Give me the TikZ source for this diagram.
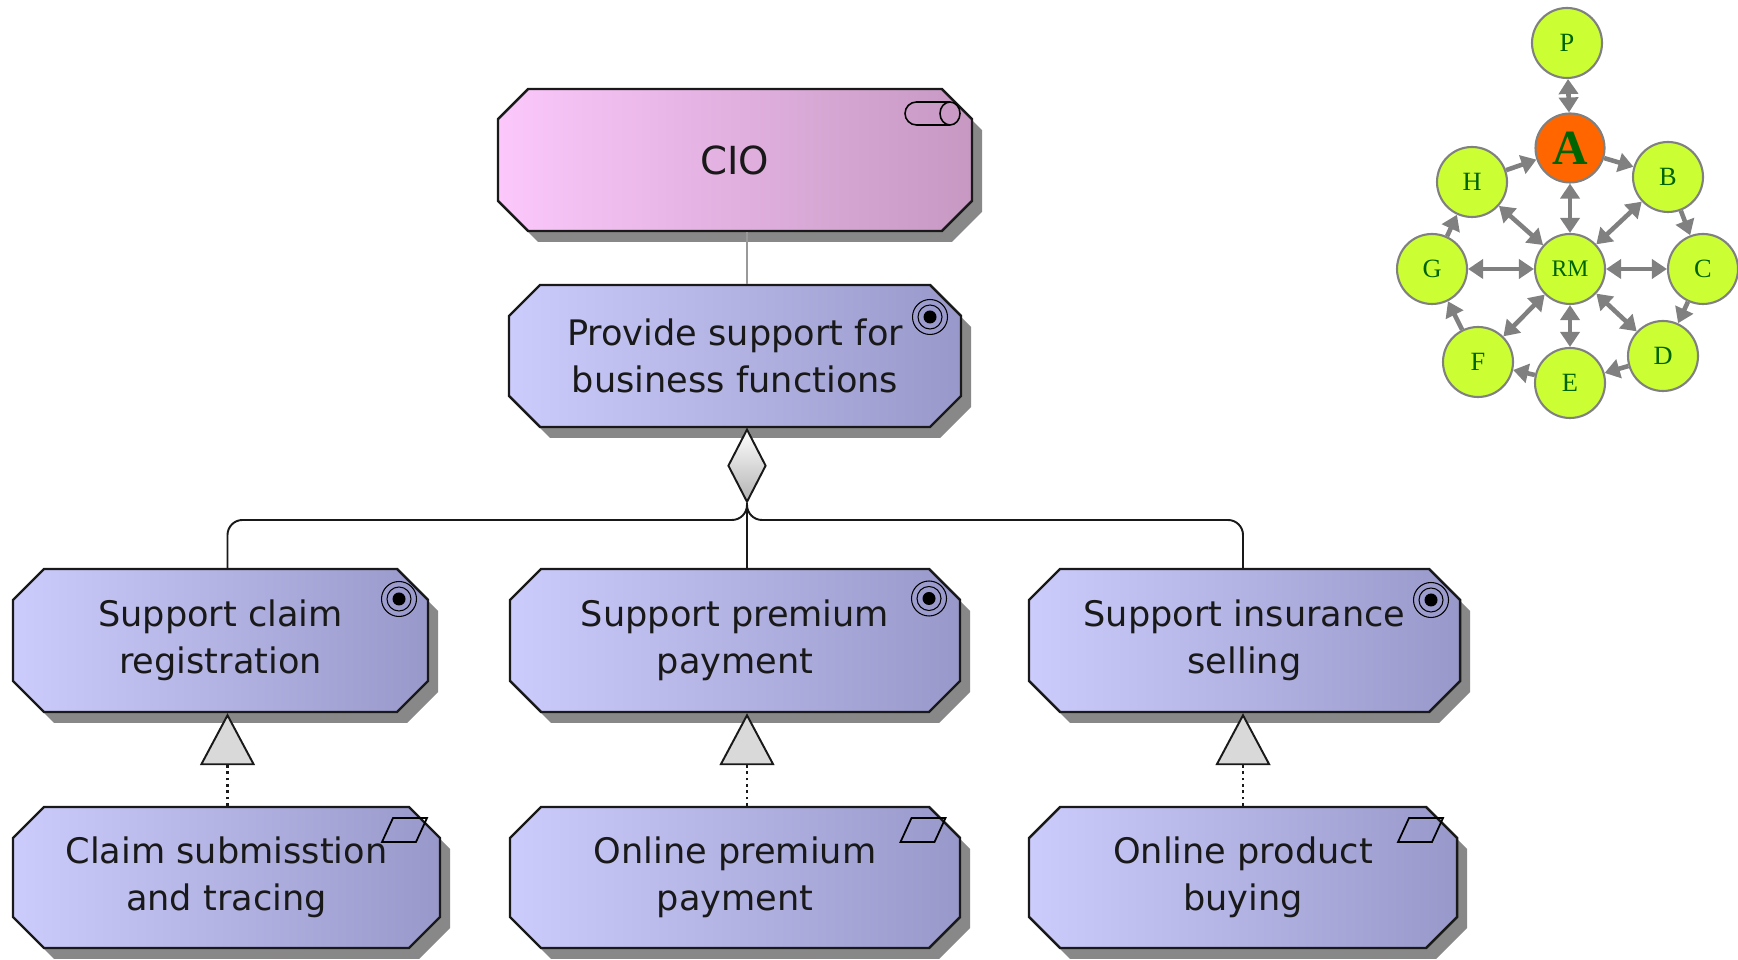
\documentclass[tikz,border=0pt]{standalone}
\usepackage{fontspec}
\setmainfont{DejaVu Sans}
\newfontfamily\graphfont{Liberation Serif}
\usetikzlibrary{shapes.misc,shapes.geometric,shadows,arrows.meta}
\definecolor{bizleft}{RGB}{204,204,252}
\definecolor{bizright}{RGB}{152,152,202}
\definecolor{roleleft}{RGB}{252,200,252}
\definecolor{roleright}{RGB}{198,152,194}
\definecolor{nodegreen}{RGB}{204,255,51}
\definecolor{nodeorange}{RGB}{255,102,0}
\definecolor{leaf}{RGB}{0,100,0}
\tikzset{
    goalmark/.pic = {
        \draw[line width = 0.6pt] (0,0) circle (0.35);
        \draw[line width = 0.6pt] (0,0) circle (0.24);
        \fill (0,0) circle (0.13);
    },
    eventmark/.pic = {
        \draw[line width = 1pt] (-0.45,-0.24) -- (-0.23,0.24) -- (0.45,0.24) -- (0.23,-0.24) -- cycle;
    }
}
\begin{document}
\begin{tikzpicture}[scale = 1,
    box/.style = {chamfered rectangle, chamfered rectangle xsep = 0.31cm, chamfered rectangle ysep = 0.31cm,
        draw = black!90, line width = 1.4pt, left color = bizleft, right color = bizright,
        drop shadow = {shadow xshift = 0.2cm, shadow yshift = -0.22cm, fill = black!55, opacity = 0.85},
        align = center, inner sep = 0pt, text = black!90, font = \fontsize{20}{27}\selectfont},
    role/.style = {box, left color = roleleft, right color = roleright, font = \fontsize{22}{27}\selectfont},
    wire/.style = {draw = black!90, line width = 1.1pt},
    aggdiamond/.style = {diamond, draw = black!90, line width = 1.1pt, top color = white, bottom color = black!30,
        minimum width = 0.76cm, minimum height = 1.46cm, inner sep = 0pt, aspect = 0.52},
    realize/.style = {wire, line width = 1.5pt, dash pattern = on 1.6pt off 2pt,
        -{Triangle[length = 1.04cm, width = 1.1cm, fill = black!15, line width = 1.1pt]}},
    gnode/.style = {circle, draw = gray, line width = 1.2pt, fill = nodegreen, minimum size = 1.4cm,
        inner sep = 0pt, text = leaf, font = \graphfont\fontsize{15}{15}\selectfont},
    link/.style = {draw = gray, line width = 2.6pt, >={Triangle[length = 0.3cm, width = 0.38cm]}}]
    \useasboundingbox (0,0) rectangle (34.76,19.2);

    % motivation tree
    \node[role, minimum width = 9.48cm, minimum height = 2.84cm] (cio) at (14.70,16.00) {CIO};
    \node[box, minimum width = 9.04cm, minimum height = 2.84cm] (provide) at (14.70,12.08) {Provide support for\\business functions};
    \node[box, minimum width = 8.30cm, minimum height = 2.86cm] (claim) at (4.41,6.39) {Support claim\\registration};
    \node[box, minimum width = 9.00cm, minimum height = 2.86cm] (premium) at (14.70,6.39) {Support premium\\payment};
    \node[box, minimum width = 8.62cm, minimum height = 2.86cm] (selling) at (24.89,6.39) {Support insurance\\selling};
    \node[box, minimum width = 8.54cm, minimum height = 2.82cm] (submission) at (4.53,1.65) {Claim submisstion\\and tracing};
    \node[box, minimum width = 9.00cm, minimum height = 2.82cm] (onlinepay) at (14.70,1.65) {Online premium\\payment};
    \node[box, minimum width = 8.56cm, minimum height = 2.82cm] (buying) at (24.86,1.65) {Online product\\buying};

    % icons
    \draw[line width = 0.9pt] (19.00,17.16) -- (18.33,17.16) arc (90:270:0.23) -- (19.00,16.70);
    \draw[line width = 0.9pt] (19.00,16.93) ellipse (0.2 and 0.23);
    \pic at (18.60,12.86) {goalmark};
    \pic at (7.98,7.22) {goalmark};
    \pic at (18.58,7.23) {goalmark};
    \pic at (28.62,7.20) {goalmark};
    \pic at (8.09,2.60) {eventmark};
    \pic at (18.46,2.60) {eventmark};
    \pic at (28.41,2.60) {eventmark};

    % connectors
    \coordinate (fork) at (14.94,8.80);
    \coordinate (lbr) at (4.55,8.80);
    \coordinate (rbr) at (24.86,8.80);
    \draw[black!40, line width = 1pt] (cio.south -| fork) -- (provide.north -| fork);
    \node[aggdiamond, anchor = north] (agg) at (provide.south -| fork) {};
    \draw[wire, rounded corners = 0.3cm] (agg.south) |- (lbr) -- (claim.north -| lbr);
    \draw[wire, rounded corners = 0.3cm] (agg.south) |- (rbr) -- (selling.north -| rbr);
    \draw[wire] (agg.south) -- (premium.north -| fork);
    \draw[realize] (submission.north -| lbr) -- (claim.south -| lbr);
    \draw[realize] (onlinepay.north -| fork) -- (premium.south -| fork);
    \draw[realize] (buying.north -| rbr) -- (selling.south -| rbr);

    % graph
    \node[gnode] (p) at (31.34,18.34) {P};
    \node[gnode, fill = nodeorange, minimum size = 1.38cm, font = \graphfont\bfseries\fontsize{28}{28}\selectfont] (a) at (31.40,16.24) {A};
    \node[gnode] (h) at (29.44,15.56) {H};
    \node[gnode] (b) at (33.36,15.66) {B};
    \node[gnode] (g) at (28.64,13.82) {G};
    \node[gnode, font = \graphfont\fontsize{13.5}{13.5}\selectfont] (rm) at (31.40,13.82) {RM};
    \node[gnode] (c) at (34.06,13.82) {C};
    \node[gnode] (f) at (29.56,11.96) {F};
    \node[gnode] (e) at (31.40,11.54) {E};
    \node[gnode] (d) at (33.26,12.08) {D};
    \draw[link, <->] (p) -- (a);
    \draw[link, <->] (a) -- (rm);
    \draw[link, <->] (h) -- (rm);
    \draw[link, <->] (b) -- (rm);
    \draw[link, <->] (g) -- (rm);
    \draw[link, <->] (c) -- (rm);
    \draw[link, <->] (d) -- (rm);
    \draw[link, <->] (e) -- (rm);
    \draw[link, <->] (f) -- (rm);
    \draw[link, ->] (a) -- (b);
    \draw[link, ->] (b) -- (c);
    \draw[link, ->] (c) -- (d);
    \draw[link, ->] (d) -- (e);
    \draw[link, ->] (e) -- (f);
    \draw[link, ->] (f) -- (g);
    \draw[link, ->] (g) -- (h);
    \draw[link, ->] (h) -- (a);
\end{tikzpicture}
\end{document}
